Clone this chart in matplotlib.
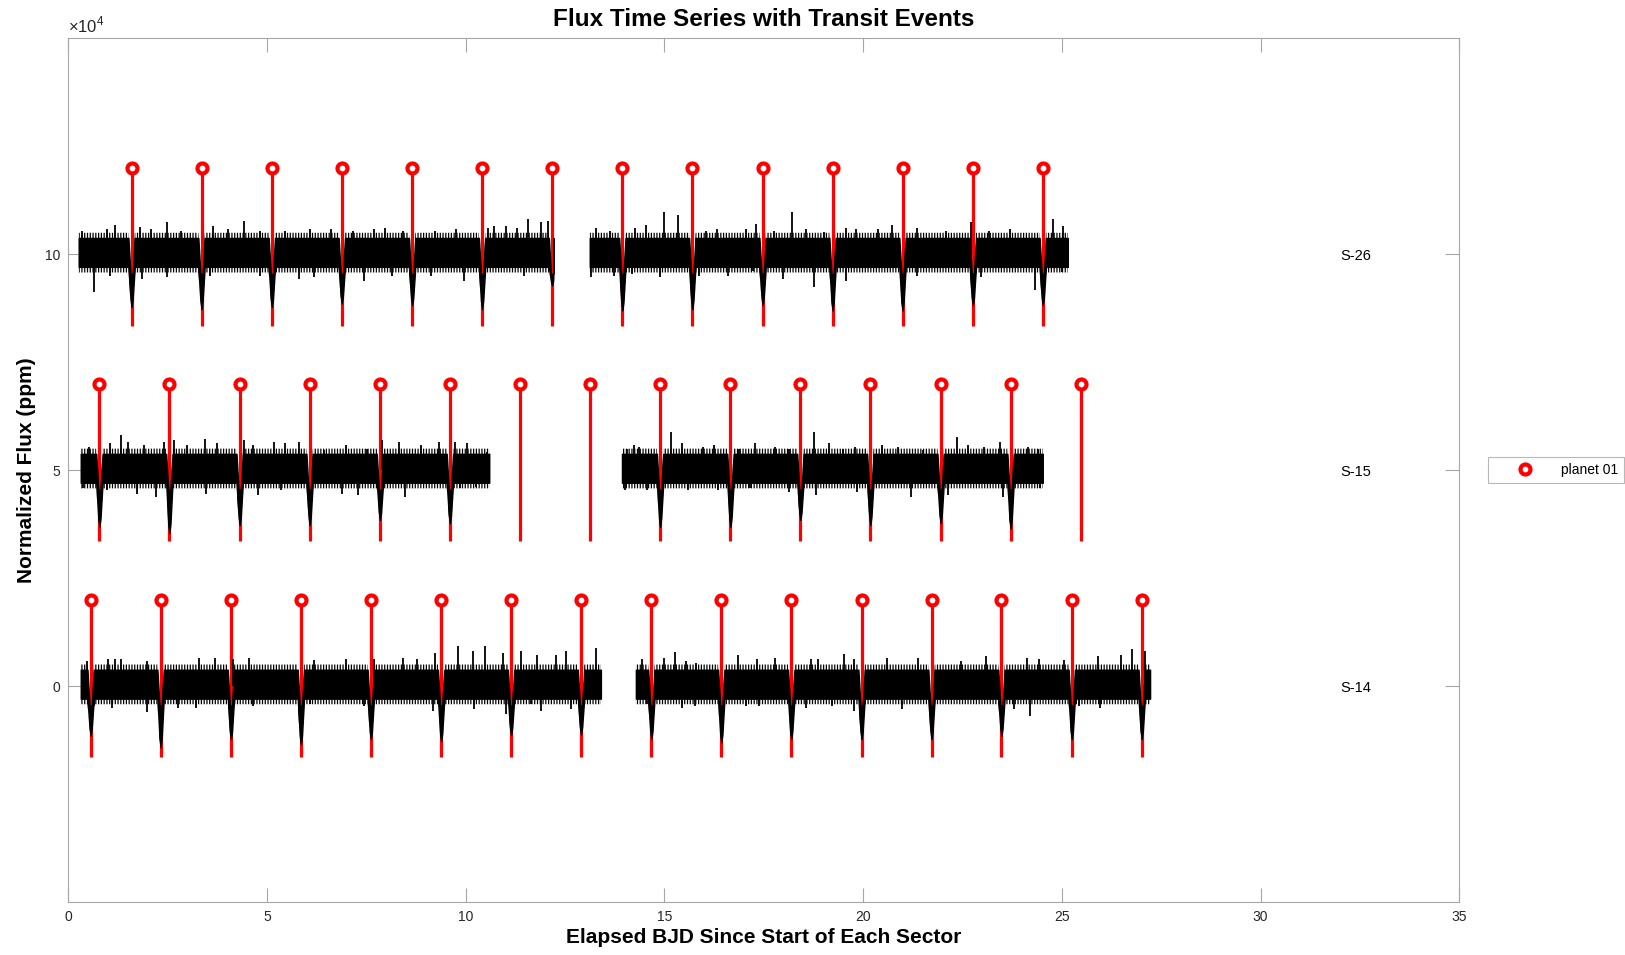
import matplotlib.pyplot as plt
from matplotlib.lines import Line2D
from matplotlib.ticker import FuncFormatter

plt.rcParams['font.family'] = ['Liberation Sans', 'DejaVu Sans']
plt.rcParams['mathtext.fontset'] = 'custom'
plt.rcParams['mathtext.rm'] = 'Liberation Sans'
plt.rcParams['hatch.linewidth'] = 0.9

# ---- sectors, stacked bottom to top with a flux offset (ppm) ----
sector_names = ['S-14', 'S-15', 'S-26']
sector_offsets = [0, 50000, 100000]

# observed spans in days since the start of each sector
s14_segments = [(0.31, 13.40), (14.28, 27.22)]
s15_segments = [(0.31, 10.59), (13.93, 24.52)]
s26_segments = [(0.26, 12.21), (13.12, 25.15)]

# mid-transit times of planet 01
s14_transits = [0.56, 2.32, 4.09, 5.85, 7.61, 9.38, 11.14, 12.90,
                14.67, 16.43, 18.19, 19.96, 21.72, 23.48, 25.25, 27.01]
s15_transits = [0.78, 2.54, 4.31, 6.07, 7.84, 9.60, 11.36, 13.13,
                14.89, 16.66, 18.42, 20.18, 21.95, 23.71, 25.48]
s26_transits = [1.59, 3.35, 5.12, 6.88, 8.65, 10.41, 12.17,
                13.94, 15.70, 17.47, 19.23, 20.99, 22.76, 24.52]

# flux at the bottom of each dip (ppm), None where the transit falls in a gap
s14_depths = [-11500, -14200, -12300, -13500, -12300, -12800, -11400, -11200,
              -12300, -13100, -12300, -12300, -12300, -11500, -12300, -12300]
s15_depths = [-13100, -14600, -12700, -12700, -11500, -12300, None, None,
              -13100, -13100, -11500, -12700, -12300, -13500, None]
s26_depths = [-12200, -12700, -12200, -11400, -11800, -12700, -7200,
              -13000, -12700, -11800, -13000, -13000, -11800, -11800]

# spread of the photometry (ppm): solid core and the denser part of the scatter
core_upper = 3800
core_lower = -2900
scatter_upper = 5000
scatter_lower = -4200
transit_halfwidth = 0.08
dip_ceiling = -4500

# isolated outlying points (days, ppm)
s14_up_t = [0.46, 1.00, 1.18, 1.32, 1.99, 3.29, 3.70, 4.15, 4.55, 6.17, 6.98, 7.70,
            8.42, 8.78, 9.23, 9.81, 10.17, 10.48, 10.93, 11.38, 11.79, 12.28, 12.51, 13.27,
            14.44, 14.98, 15.26, 15.53, 15.80, 16.84, 17.33, 17.78, 18.68, 18.86, 19.53,
            19.76, 20.61, 21.38, 22.45, 23.08, 24.12, 24.43, 25.06, 25.91, 26.50, 26.77, 27.08]
s14_up_v = [5800, 6300, 6200, 6300, 5800, 6500, 6400, 6200, 6400, 6000, 6200, 6200,
            6500, 6200, 7700, 9200, 8100, 9200, 7700, 8100, 7200, 7300, 8100, 8800,
            6200, 6500, 7800, 5800, 5400, 7300, 6200, 6400, 6200, 6200, 7500,
            6200, 6500, 6500, 5800, 6900, 6500, 6200, 6000, 6900, 7300, 8500, 8100]
s14_dn_t = [0.64, 1.09, 1.99, 2.76, 3.20, 4.64, 6.08, 7.43, 9.18, 10.21, 11.02, 11.65,
            11.88, 12.64, 14.55, 15.44, 15.76, 17.06, 17.38, 18.55, 19.22, 19.76, 20.97,
            23.80, 24.21, 25.42, 25.96]
s14_dn_v = [-4600, -5000, -6000, -5000, -5000, -4600, -4200, -4600, -5800, -5400, -6500, -4200,
            -5800, -5400, -4200, -5000, -4600, -4500, -4600, -5000, -4500, -5800, -5400,
            -5400, -6900, -4600, -5000]

s15_up_t = [0.51, 1.05, 1.32, 1.50, 1.90, 2.40, 2.66, 2.98, 3.43, 3.74, 4.42, 4.64,
            5.18, 5.45, 5.81, 6.44, 6.98, 7.52, 7.88, 8.33, 8.87, 9.32, 9.72, 10.03, 10.53,
            14.05, 14.23, 14.37, 15.17, 15.44, 15.98, 16.25, 16.88, 17.29, 17.78, 18.14,
            18.77, 19.13, 19.49, 19.80, 20.48, 20.88, 21.51, 22.36, 22.64, 23.04, 23.44,
            24.16, 24.39]
s15_up_v = [5400, 6200, 8100, 6500, 5800, 6500, 6900, 5800, 7300, 6200, 6900, 5800,
            6500, 6200, 6500, 4600, 5800, 5000, 6900, 6500, 5800, 6500, 6500, 6200, 4200,
            5000, 5800, 5400, 8800, 6200, 5400, 5800, 5000, 6200, 5400, 5000,
            8800, 6200, 5000, 5400, 5800, 5400, 4600, 7700, 5800, 5400, 6500,
            5400, 5000]
s15_dn_t = [0.37, 0.98, 1.72, 2.21, 3.47, 4.78, 5.36, 6.89, 7.29, 8.46, 9.85, 10.26,
            14.01, 14.55, 15.58, 16.34, 17.15, 18.14, 18.81, 19.85, 21.20, 22.14, 23.53, 24.45]
s15_dn_v = [-4200, -4600, -5400, -6200, -5400, -5800, -4600, -5400, -5800, -6200, -4200, -3800,
            -4600, -4600, -4600, -4600, -4200, -5000, -5800, -5000, -6200, -5800, -6200, -4200]

s26_up_t = [0.33, 0.96, 1.18, 1.81, 2.08, 2.48, 2.84, 3.65, 4.01, 4.42, 4.82, 5.45,
            6.08, 6.62, 7.16, 7.70, 7.97, 8.42, 9.23, 9.76, 10.57, 10.71, 11.02, 11.29,
            11.56, 11.88, 12.06,
            13.27, 13.63, 14.26, 14.53, 14.98, 15.34, 16.05, 16.32, 17.04, 17.31, 17.76,
            18.21, 18.57, 19.02, 19.56, 19.83, 20.37, 20.73, 21.36, 22.08, 22.71, 23.16,
            23.70, 24.77, 25.04]
s26_up_v = [5500, 5800, 6800, 6400, 5800, 7400, 5500, 6600, 5800, 7800, 5500, 5500,
            5800, 5800, 5500, 5800, 6200, 5500, 5500, 5800, 6200, 6600, 6600, 6200,
            8200, 7400, 7800,
            6200, 5500, 6100, 6800, 9700, 9200, 5500, 5800, 5800, 7000, 5500,
            9700, 5800, 5100, 6100, 5800, 5800, 6800, 6200, 5500, 7400, 5500,
            5800, 8200, 6600]
s26_dn_t = [0.64, 1.05, 1.86, 2.48, 3.56, 4.82, 5.81, 6.17, 7.43, 8.15, 9.13, 9.95, 11.47,
            13.14, 13.72, 14.17, 14.89, 15.88, 16.60, 17.22, 17.99, 18.75, 19.56, 21.36,
            22.97, 24.32, 25.00]
s26_dn_v = [-8800, -4900, -5700, -5300, -4900, -4900, -5700, -5300, -6100, -4900, -4900, -6100, -4900,
            -5200, -4900, -4500, -5300, -4900, -4900, -3800, -5700, -7500, -6100, -4900,
            -5300, -8200, -4200]

# transit marker stems (ppm relative to each sector's offset)
stem_top = 20000
stem_bottom = -16500

x_ticks = [0, 5, 10, 15, 20, 25, 30, 35]
y_ticks = [0, 50000, 100000]

segments = [s14_segments, s15_segments, s26_segments]
transits = [s14_transits, s15_transits, s26_transits]
depths = [s14_depths, s15_depths, s26_depths]
spikes_up = [(s14_up_t, s14_up_v), (s15_up_t, s15_up_v), (s26_up_t, s26_up_v)]
spikes_dn = [(s14_dn_t, s14_dn_v), (s15_dn_t, s15_dn_v), (s26_dn_t, s26_dn_v)]


def band_outline(t0, t1, tr, dp, hi, lo):
    """Upper/lower edge of the flux band over one segment, with the transit dips cut in."""
    t, up, low = [t0], [hi], [lo]
    w = transit_halfwidth
    for tc, d in zip(tr, dp):
        if d is None or tc < t0 or tc > t1:
            continue
        for dt, u, l in [(-w, hi, lo), (-0.35 * w, dip_ceiling, 0.85 * d), (0.0, dip_ceiling, d),
                         (0.35 * w, dip_ceiling, 0.85 * d), (w, hi, lo)]:
            if t0 <= tc + dt <= t1:
                t.append(tc + dt)
                up.append(u)
                low.append(l)
    t.append(t1)
    up.append(hi)
    low.append(lo)
    return t, up, low


fig = plt.figure(figsize=(16.25, 9.55), dpi=100)
ax = fig.add_axes([0.0421, 0.0555, 0.8559, 0.9042])

axis_grey = '#a6a6a6'
text_grey = '#262626'

for i, off in enumerate(sector_offsets):
    # transit stems under the light curve
    tr = transits[i]
    ax.vlines(tr, off + stem_bottom, off + stem_top, color='red', lw=2.3, zorder=2)

    for (t0, t1) in segments[i]:
        # fine scatter as a vertical comb, then the solid core on top
        t, up, low = band_outline(t0, t1, tr, depths[i], scatter_upper, scatter_lower)
        ax.fill_between(t, [off + u for u in up], [off + l for l in low],
                        facecolor='none', edgecolor='black', hatch='||||||', lw=0, zorder=3)
        t, up, low = band_outline(t0, t1, tr, depths[i], core_upper, core_lower)
        ax.fill_between(t, [off + u for u in up], [off + l for l in low],
                        color='black', lw=1.0, edgecolor='black', zorder=3)

    ut, uv = spikes_up[i]
    ax.vlines(ut, off, [off + v for v in uv], color='black', lw=1.3, zorder=3)
    dt, dv = spikes_dn[i]
    ax.vlines(dt, off, [off + v for v in dv], color='black', lw=1.3, zorder=3)

    ax.plot(tr, [off + stem_top] * len(tr), linestyle='none', marker='o', ms=7.2,
            mew=3.0, mec='red', mfc='white', zorder=4)

    ax.text(32, off, sector_names[i], ha='left', va='center_baseline', fontsize=10.5, color='black')

ax.set_xlim(0, 35)
ax.set_ylim(-50000, 150000)
ax.set_xticks(x_ticks)
ax.set_yticks(y_ticks)
ax.yaxis.set_major_formatter(FuncFormatter(lambda v, p: f'{v / 1e4:g}'))

for sp in ax.spines.values():
    sp.set_color(axis_grey)
    sp.set_linewidth(0.8)
ax.tick_params(direction='in', length=10, width=0.8, color=axis_grey, labelcolor=text_grey,
               labelsize=10, pad=6, top=True, right=True)

ax.text(0, 1.004, r'$\times10^{4}$', transform=ax.transAxes, ha='left', va='bottom',
        fontsize=12, color=text_grey)

ax.set_title('Flux Time Series with Transit Events', fontsize=17.5, fontweight='bold', pad=9)
ax.set_xlabel('Elapsed BJD Since Start of Each Sector', fontsize=15, fontweight='bold', labelpad=3)
ax.set_ylabel('Normalized Flux (ppm)', fontsize=15, fontweight='bold', labelpad=6)

handle = Line2D([], [], linestyle='none', marker='o', ms=7.2, mew=3.0, mec='red', mfc='white')
leg = fig.legend([handle], ['planet 01'], loc='center left', bbox_to_anchor=(1488 / 1625, 1 - 470 / 955),
                 borderaxespad=0, frameon=True, fancybox=False, fontsize=10, handlelength=4.4,
                 handletextpad=0.4, borderpad=0.45)
leg.get_frame().set_edgecolor(axis_grey)
leg.get_frame().set_linewidth(0.8)

fig.savefig('out.png', dpi=100)
